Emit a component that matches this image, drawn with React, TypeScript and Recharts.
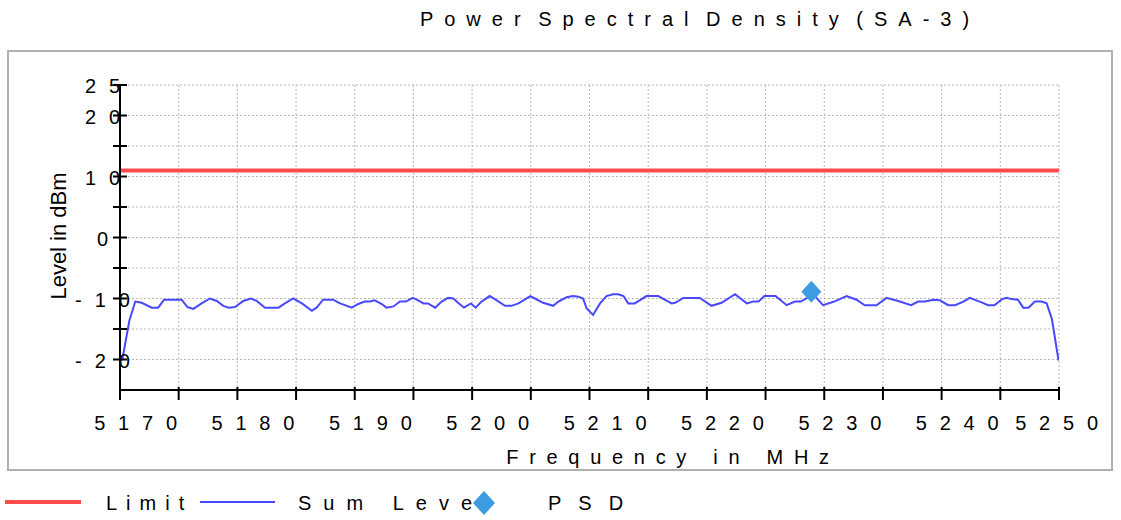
import React from 'react';
import { ComposedChart, Line, Scatter, XAxis, YAxis, CartesianGrid } from 'recharts';

const FONT = "'Liberation Sans', Arial, sans-serif";

// Sum Level trace (frequency in MHz, level in dBm)
const sumFreq = [
  5170.0, 5170.2, 5170.8, 5171.3, 5171.85, 5172.7, 5173.25, 5173.75,
  5175.25, 5175.75, 5176.25, 5176.95, 5177.65, 5178.25, 5178.8, 5179.25,
  5179.8, 5180.5, 5181.15, 5181.65, 5182.35, 5183.5, 5184.05, 5184.75,
  5185.5, 5186.35, 5186.75, 5187.3, 5188.15, 5188.75, 5189.75, 5190.3,
  5190.85, 5191.3, 5191.7, 5192.3, 5192.7, 5193.3, 5193.85, 5194.35,
  5194.95, 5195.4, 5195.85, 5196.25, 5196.85, 5197.4, 5197.95, 5198.4,
  5198.8, 5199.3, 5199.9, 5200.3, 5200.8, 5201.5, 5202.1, 5202.8,
  5203.35, 5203.95, 5204.95, 5205.35, 5206.05, 5206.9, 5207.35, 5208.05,
  5208.6, 5209.05, 5209.45, 5209.75, 5210.3, 5210.9, 5211.45, 5212.0,
  5212.45, 5212.9, 5213.3, 5213.85, 5214.85, 5215.85, 5216.6, 5217.0,
  5217.3, 5218.0, 5219.4, 5220.4, 5221.25, 5222.4, 5223.4, 5223.95,
  5224.4, 5224.9, 5225.85, 5226.8, 5227.5, 5228.0, 5228.55, 5229.05,
  5229.9, 5230.85, 5231.9, 5232.75, 5233.45, 5234.45, 5235.3, 5236.3,
  5237.4, 5238.0, 5238.6, 5239.3, 5239.85, 5240.55, 5241.15, 5241.85,
  5242.4, 5243.35, 5243.95, 5244.5, 5245.15, 5245.55, 5245.95, 5246.5,
  5246.95, 5247.4, 5247.95, 5248.5, 5248.95, 5249.4, 5249.95, 5250.0,
];
const sumLevel = [
  -20.0, -20.0, -13.6, -10.5, -10.7, -11.5, -11.5, -10.2,
  -10.2, -11.4, -11.7, -10.8, -10.0, -10.4, -11.2, -11.5,
  -11.4, -10.4, -10.0, -10.4, -11.5, -11.5, -10.8, -10.0,
  -10.8, -12.0, -11.5, -10.2, -10.2, -10.8, -11.5, -10.9,
  -10.5, -10.5, -10.3, -10.9, -11.5, -11.3, -10.5, -10.5,
  -9.9, -10.3, -10.8, -10.8, -11.5, -10.5, -9.9, -10.0,
  -10.7, -11.5, -10.8, -11.5, -10.5, -9.6, -10.3, -11.2,
  -11.2, -10.8, -9.6, -10.0, -10.7, -11.2, -10.5, -9.8,
  -9.6, -9.7, -10.0, -11.6, -12.7, -10.8, -9.6, -9.3,
  -9.3, -9.6, -10.8, -10.8, -9.6, -9.6, -10.4, -10.8,
  -10.7, -9.9, -9.9, -11.2, -10.7, -9.3, -10.8, -10.5,
  -10.5, -9.6, -9.6, -11.1, -10.5, -10.5, -9.9, -9.3,
  -11.1, -10.5, -9.6, -10.2, -11.1, -11.1, -9.9, -10.4,
  -11.1, -10.5, -10.5, -10.2, -10.3, -11.1, -11.1, -10.5,
  -9.9, -10.6, -11.1, -11.1, -10.1, -9.9, -10.1, -10.2,
  -11.5, -11.5, -10.5, -10.5, -10.8, -13.4, -20.0, -20.0,
];

const limitFreq = [5170, 5250];
const limitLevel = [11, 11];

const psdFreq = [5228.9];
const psdLevel = [-8.9];

const xTicks = [5170, 5175, 5180, 5185, 5190, 5195, 5200, 5205, 5210, 5215, 5220, 5225, 5230, 5235, 5240, 5245, 5250];
const xLabeled = [5170, 5180, 5190, 5200, 5210, 5220, 5230, 5240, 5250];
const yTicks = [-25, -20, -15, -10, -5, 0, 5, 10, 15, 20, 25];
const yLabeled = [25, 20, 10, 0, -10, -20];

const sumData = sumFreq.map((f, i) => ({ freq: f, level: sumLevel[i] }));
const limitData = limitFreq.map((f, i) => ({ freq: f, level: limitLevel[i] }));
const psdData = psdFreq.map((f, i) => ({ freq: f, level: psdLevel[i] }));

const LIMIT_COLOR = '#ff4b4b';
const SUM_COLOR = '#4848ff';
const PSD_COLOR = '#3d9be0';

const XTick = (props: any) => {
  const { x, y, payload } = props;
  const v = payload.value;
  const isLast = v === xLabeled[xLabeled.length - 1];
  return (
    <g>
      <line x1={x} x2={x} y1={y - 3} y2={y + 10} stroke="#000" strokeWidth={2} />
      {xLabeled.includes(v) && (
        <text x={x + (isLast ? 4 : 22)} y={y + 33} textAnchor="middle" dominantBaseline="central" fontSize={20}
          letterSpacing={12.8} fill="#000" fontFamily={FONT}>{v}</text>
      )}
    </g>
  );
};

const YTick = (props: any) => {
  const { x, y, payload } = props;
  const v = payload.value;
  if (v === -25) return <g />;
  return (
    <g>
      <line x1={x - 7} x2={x + 7} y1={y} y2={y} stroke="#000" strokeWidth={2} />
      {yLabeled.includes(v) && (
        <text x={x - 11} y={y + 1} textAnchor="middle" dominantBaseline="central" fontSize={20}
          letterSpacing={13} fill="#000" fontFamily={FONT}>{v}</text>
      )}
    </g>
  );
};

const Diamond = (props: any) => {
  const { cx, cy } = props;
  return <polygon points={`${cx},${cy - 11} ${cx + 10},${cy} ${cx},${cy + 11} ${cx - 10},${cy}`} fill={PSD_COLOR} />;
};

export default function App() {
  return (
    <div style={{ position: 'absolute', left: 0, top: 0, width: 1121, height: 520, background: '#fff', overflow: 'hidden' }}>
      <svg width={1121} height={520} style={{ position: 'absolute', left: 0, top: 0 }}>
        <text x={700} y={19} textAnchor="middle" dominantBaseline="central" fontSize={20} letterSpacing={11}
          wordSpacing={-10} fontFamily={FONT} fill="#000">Power Spectral Density (SA-3)</text>
        <line x1={5} x2={81} y1={502} y2={502} stroke={LIMIT_COLOR} strokeWidth={4} />
        <text x={106} y={503} dominantBaseline="central" fontSize={20} letterSpacing={9} fontFamily={FONT} fill="#000">Limit</text>
        <line x1={200} x2={275} y1={502} y2={502} stroke={SUM_COLOR} strokeWidth={2} />
        <text x={298} y={503} dominantBaseline="central" fontSize={20} letterSpacing={12} fontFamily={FONT} fill="#000">Sum Level</text>
        <polygon points="484,491 495,503 484,515 473,503" fill={PSD_COLOR} />
        <text x={548} y={503} dominantBaseline="central" fontSize={20} letterSpacing={17} fontFamily={FONT} fill="#000">PSD</text>
      </svg>
      <div style={{ position: 'absolute', left: 7, top: 50, width: 1102, height: 417, border: '2px solid #b0b0b0', overflow: 'hidden', background: '#fff' }}>
        <ComposedChart width={1102} height={417} margin={{ top: 33, right: 52, bottom: 49, left: 51 }}>
          <CartesianGrid stroke="#b8b8b8" strokeDasharray="2 2" horizontalValues={yTicks} verticalValues={xTicks} />
          <XAxis dataKey="freq" type="number" domain={[5170, 5250]} ticks={xTicks} interval={0} height={30}
            allowDataOverflow tickSize={0} tickMargin={0} tickLine={false}
            axisLine={{ stroke: '#000', strokeWidth: 2 }} tick={<XTick />} />
          <YAxis dataKey="level" type="number" domain={[-25, 25]} ticks={yTicks} interval={0} width={60}
            allowDataOverflow tickSize={0} tickMargin={0} tickLine={false}
            axisLine={{ stroke: '#000', strokeWidth: 2 }} tick={<YTick />} />
          <Line data={limitData} dataKey="level" type="linear" stroke={LIMIT_COLOR} strokeWidth={4} dot={false}
            isAnimationActive={false} name="Limit" />
          <Line data={sumData} dataKey="level" type="linear" stroke={SUM_COLOR} strokeWidth={2} dot={false}
            isAnimationActive={false} name="Sum Level" />
          <Scatter data={psdData} dataKey="level" fill={PSD_COLOR} shape={<Diamond />} isAnimationActive={false} name="PSD" />
        </ComposedChart>
        <div style={{ position: 'absolute', left: 0, top: 0, width: 1102, height: 417, pointerEvents: 'none' }}>
          <svg width={1102} height={417}>
            <text x={664} y={405} textAnchor="middle" dominantBaseline="central" fontSize={20}
              letterSpacing={10.7} fontFamily={FONT} fill="#000">Frequency in MHz</text>
            <text x={49} y={184} textAnchor="middle" dominantBaseline="central" fontSize={22}
              fontFamily={FONT} fill="#000" transform="rotate(-90 49 184)">Level in dBm</text>
          </svg>
        </div>
      </div>
    </div>
  );
}
